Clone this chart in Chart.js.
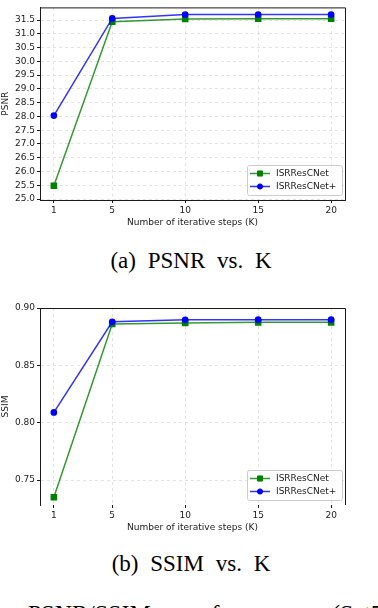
<!DOCTYPE html>
<html>
<head>
<meta charset="utf-8">
<script src="https://cdn.jsdelivr.net/npm/chart.js@4.4.1/dist/chart.umd.min.js"></script>
<style>
  html, body { margin: 0; padding: 0; background: #fff; width: 378px; height: 608px; overflow: hidden; position: relative; }
  canvas { position: absolute; left: 0; }
  .cap { position: absolute; left: 0; width: 378px; text-align: center; font-family: "Liberation Serif", serif;
         font-size: 23px; line-height: 24px; color: #000; word-spacing: 6px; white-space: nowrap; }
</style>
</head>
<body>
<canvas id="psnrChart" width="378" height="236" style="top:0"></canvas>
<div class="cap" style="top:249px;left:2px">(a) PSNR vs. K</div>
<canvas id="ssimChart" width="378" height="240" style="top:300px"></canvas>
<div class="cap" style="top:552px;left:2px">(b) SSIM vs. K</div>
<div class="cap" style="top:601px;left:28px;width:420px;text-align:left;font-size:24px;word-spacing:24px">PSNR/SSIM performance (Set5)</div>
<script>
const kSteps = [1, 5, 10, 15, 20];
const kTicks = [1, 5, 10, 15, 20];
const seriesNames = ["ISRResCNet", "ISRResCNet+"];

const psnrISR = [25.48, 31.44, 31.54, 31.55, 31.55];
const psnrISRPlus = [28.03, 31.56, 31.70, 31.70, 31.70];
const psnrTicks = [25.0, 25.5, 26.0, 26.5, 27.0, 27.5, 28.0, 28.5, 29.0, 29.5, 30.0, 30.5, 31.0, 31.5];

const ssimISR = [0.735, 0.886, 0.887, 0.8875, 0.8875];
const ssimISRPlus = [0.809, 0.888, 0.8897, 0.8898, 0.8898];
const ssimTicks = [0.75, 0.80, 0.85, 0.90];

const axisFont = { family: "DejaVu Sans", size: 9 };
const inkColor = "#1a1a1a";

// draws the top/right spines and a matplotlib style legend inside the plot
const framePlugin = {
    id: "frame",
    afterDraw(chart) {
        const { ctx, chartArea: a } = chart;
        ctx.save();
        ctx.strokeStyle = inkColor;
        ctx.lineWidth = 1;
        ctx.beginPath();
        ctx.moveTo(a.left, a.top + 0.5);
        ctx.lineTo(a.right + 0.5, a.top + 0.5);
        ctx.lineTo(a.right + 0.5, a.bottom);
        ctx.stroke();

        const w = 95, h = 30;
        const bx = a.right - 3 - w, by = a.bottom - 5 - h;
        ctx.fillStyle = "rgba(255,255,255,0.85)";
        ctx.strokeStyle = "#cccccc";
        ctx.beginPath();
        ctx.roundRect(bx + 0.5, by + 0.5, w, h, 2);
        ctx.fill();
        ctx.stroke();

        chart.data.datasets.forEach((ds, i) => {
            const y = by + 8.5 + i * 13;
            ctx.strokeStyle = ds.borderColor;
            ctx.lineWidth = 1.5;
            ctx.beginPath();
            ctx.moveTo(bx + 3, y);
            ctx.lineTo(bx + 23, y);
            ctx.stroke();
            ctx.fillStyle = ds.pointBackgroundColor;
            ctx.strokeStyle = ds.pointBorderColor;
            ctx.lineWidth = 1;
            Chart.helpers.drawPoint(ctx, { pointStyle: ds.pointStyle, radius: ds.pointRadius, rotation: 0, borderWidth: 1 }, bx + 13, y);
            ctx.fillStyle = inkColor;
            ctx.font = "9px 'DejaVu Sans'";
            ctx.textBaseline = "middle";
            ctx.fillText(ds.label, bx + 29, y);
        });
        ctx.restore();
    }
};

function buildChart(canvasId, o) {
    return new Chart(document.getElementById(canvasId), {
        type: "line",
        data: {
            datasets: [{
                label: seriesNames[0],
                data: kSteps.map((k, i) => ({ x: k, y: o.green[i] })),
                borderColor: "rgba(0,128,0,0.8)",
                backgroundColor: "#008000",
                pointBackgroundColor: "#008000",
                pointBorderColor: "#008000",
                pointStyle: "rect",
                pointRadius: 3.6,
                borderWidth: 1.5,
                order: 1
            }, {
                label: seriesNames[1],
                data: kSteps.map((k, i) => ({ x: k, y: o.blue[i] })),
                borderColor: "rgba(0,0,255,0.8)",
                backgroundColor: "#0000ff",
                pointBackgroundColor: "#0000ff",
                pointBorderColor: "#0000ff",
                pointStyle: "circle",
                pointRadius: 2.6,
                borderWidth: 1.5,
                order: 0
            }]
        },
        options: {
            responsive: false,
            animation: false,
            devicePixelRatio: 1,
            layout: { padding: { top: o.padTop, right: 33, left: 0, bottom: 0 } },
            plugins: { legend: { display: false }, tooltip: { enabled: false } },
            scales: {
                x: {
                    type: "linear",
                    min: 0.05,
                    max: 20.95,
                    afterBuildTicks: s => { s.ticks = kTicks.map(v => ({ value: v })); },
                    afterFit: s => { s.height = o.xHeight; },
                    ticks: { font: axisFont, color: inkColor, padding: 2, maxRotation: 0, autoSkip: false },
                    grid: { color: "#dcdcdc", lineWidth: 0.8, tickColor: inkColor, tickLength: 3, tickWidth: 1 },
                    border: { display: o.bottomSpine, color: inkColor, width: 1, dash: [3, 3] },
                    title: { display: true, text: "Number of iterative steps (K)", font: axisFont, color: inkColor,
                             padding: { top: 0, bottom: o.titlePad } }
                },
                y: {
                    min: o.yMin,
                    max: o.yMax,
                    afterBuildTicks: s => { s.ticks = o.yTicks.map(v => ({ value: v })); },
                    afterFit: s => { s.width = 40; },
                    ticks: { font: axisFont, color: inkColor, padding: 2, autoSkip: false,
                             callback: v => v.toFixed(o.decimals) },
                    grid: { color: "#dcdcdc", lineWidth: 0.8, tickColor: inkColor, tickLength: 3, tickWidth: 1 },
                    border: { color: inkColor, width: 1, dash: [3, 3] },
                    title: { display: true, text: o.yTitle, font: axisFont, color: inkColor, padding: 0 }
                }
            }
        },
        plugins: [framePlugin]
    });
}

buildChart("psnrChart", {
    green: psnrISR, blue: psnrISRPlus, yTicks: psnrTicks, yMin: 24.965, yMax: 31.96,
    decimals: 1, yTitle: "PSNR", padTop: 2, xHeight: 36, titlePad: 7.6, bottomSpine: true
});
buildChart("ssimChart", {
    green: ssimISR, blue: ssimISRPlus, yTicks: ssimTicks, yMin: 0.7283, yMax: 0.90,
    decimals: 2, yTitle: "SSIM", padTop: 8, xHeight: 35, titlePad: 6.6, bottomSpine: false
});
</script>
</body>
</html>
